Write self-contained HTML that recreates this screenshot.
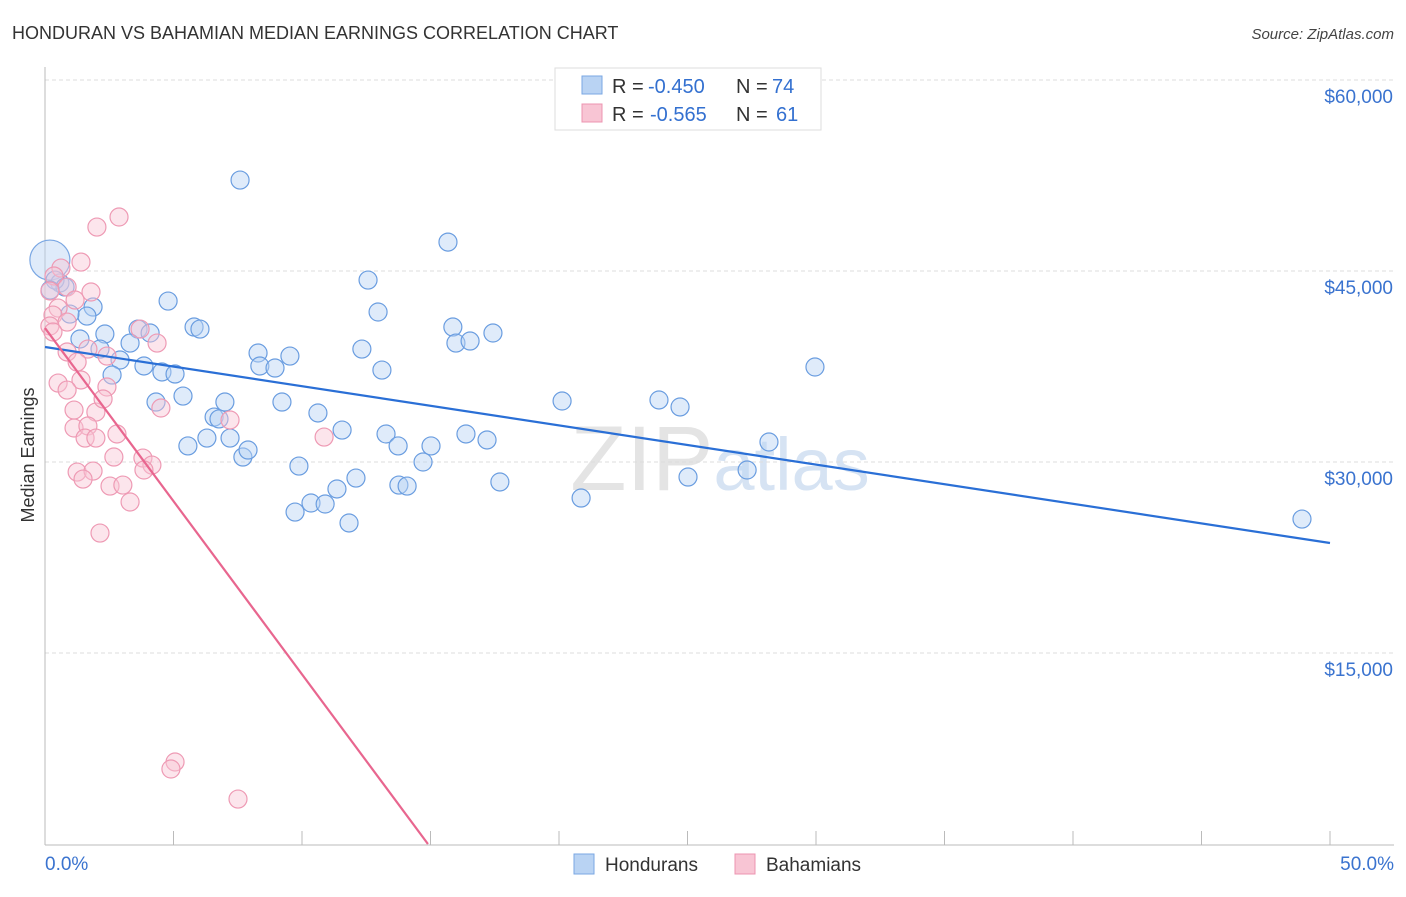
<!DOCTYPE html>
<html><head><meta charset="utf-8"><style>
body{margin:0;background:#fff;font-family:"Liberation Sans",sans-serif}
svg text{font-family:"Liberation Sans",sans-serif}
</style></head><body>
<svg id="chart" width="1406" height="892" viewBox="0 0 1406 892" xmlns="http://www.w3.org/2000/svg">
<text x="12" y="39" font-size="18" fill="#333">HONDURAN VS BAHAMIAN MEDIAN EARNINGS CORRELATION CHART</text>
<text x="1394" y="39" font-size="15" fill="#444" font-style="italic" text-anchor="end">Source: ZipAtlas.com</text>
<text x="720" y="490" font-size="92" fill="#e4e4e4" text-anchor="middle" font-family="Liberation Serif"><tspan>ZIP</tspan><tspan fill="#d6e3f3" font-family="Liberation Sans" font-size="74">atlas</tspan></text>
<g id="grid"></g>
<g id="axes"></g>
<g id="pts"></g>
<g id="lines"></g>
<text transform="translate(34,455) rotate(-90)" font-size="18" fill="#333" text-anchor="middle">Median Earnings</text>
<g>
<rect x="555" y="68" width="266" height="62" fill="#fff" stroke="#ddd"/>
<rect x="582" y="76" width="20" height="18" fill="#b9d3f3" stroke="#7aa7e3"/>
<rect x="582" y="104" width="20" height="18" fill="#f8c5d4" stroke="#ec94b0"/>
<text x="612" y="93" font-size="20" fill="#333">R =</text>
<text x="648" y="93" font-size="20" fill="#3370d0">-0.450</text>
<text x="736" y="93" font-size="20" fill="#333">N =</text>
<text x="772" y="93" font-size="20" fill="#3370d0">74</text>
<text x="612" y="121" font-size="20" fill="#333">R =</text>
<text x="650" y="121" font-size="20" fill="#3370d0">-0.565</text>
<text x="736" y="121" font-size="20" fill="#333">N =</text>
<text x="776" y="121" font-size="20" fill="#3370d0">61</text>
</g>
<g>
<rect x="574" y="854" width="20" height="20" fill="#b9d3f3" stroke="#7aa7e3"/>
<text x="605" y="871" font-size="19" fill="#333">Hondurans</text>
<rect x="735" y="854" width="20" height="20" fill="#f8c5d4" stroke="#ec94b0"/>
<text x="766" y="871" font-size="19" fill="#333">Bahamians</text>
</g>
</svg>
<script>
const xTicks=[0,5,10,15,20,25,30,35,40,45,50];
const yTicks=[15000,30000,45000,60000];
const yTickLabels=["$15,000","$30,000","$45,000","$60,000"];
const hondX=[7.59,15.68,12.57,4.79,1.87,12.96,1.63,0.97,5.80,6.03,2.33,3.62,4.09,15.87,17.43,1.36,3.31,15.99,16.54,12.33,2.14,8.29,9.53,2.92,3.85,8.36,8.95,13.11,4.55,5.06,2.61,29.96,5.37,4.32,7.00,20.12,23.89,24.71,9.22,10.62,6.58,6.77,11.56,13.27,16.38,17.20,6.30,7.20,5.56,13.74,15.02,28.17,7.70,7.90,9.88,14.71,27.32,25.02,12.10,17.70,13.77,14.09,11.36,20.86,10.35,10.90,9.73,11.83,48.91,0.58,0.39,0.78,0.20];
const hondY=[52140,47270,44290,42640,42170,41780,41460,41620,40600,40440,40050,40440,40130,40600,40130,39660,39340,39340,39500,38870,38870,38560,38320,38010,37540,37540,37380,37220,37070,36910,36830,37460,35180,34710,34710,34790,34870,34320,34710,33850,33530,33380,32510,32200,32200,31730,31880,31880,31260,31260,31260,31570,30390,30940,29680,30000,29370,28820,28740,28430,28190,28110,27880,27170,26780,26700,26070,25210,25520,44060,44290,43740,43500];
const bahX=[2.88,2.02,1.40,0.62,0.35,1.79,0.86,0.19,1.17,0.51,0.31,0.86,0.19,0.31,3.70,4.36,1.67,0.86,2.41,1.25,1.40,0.51,0.86,2.41,1.98,1.13,2.26,4.51,7.20,1.13,1.67,1.56,1.98,2.80,10.86,2.68,3.81,4.16,1.25,1.87,3.85,1.48,2.53,3.03,3.31,2.14,5.06,4.90,7.51];
const bahY=[49240,48450,45700,45230,44610,43350,43740,43430,42720,42090,41540,40990,40680,40210,40440,39340,38870,38640,38320,37850,36440,36200,35650,35890,33920,34080,34950,34240,33300,32670,32830,31880,31880,32200,31960,30390,30310,29760,29210,29290,29370,28660,28110,28190,26860,24420,6440,5890,3530];
const bigX=[0.19];const bigY=[45860];
const hondTrendX=[0,50];const hondTrendY=[39030,23640];
const bahTrendX=[0,14.9];const bahTrendY=[40520,0];
const NS="http://www.w3.org/2000/svg";
const sx=v=>45+v/50*1285;
const sy=v=>844-v/15000*191;
function mk(t,a,p){const e=document.createElementNS(NS,t);for(const k in a)e.setAttribute(k,a[k]);p.appendChild(e);return e;}
const grid=document.getElementById('grid'),axes=document.getElementById('axes'),pts=document.getElementById('pts'),lines=document.getElementById('lines');
yTicks.forEach((v,i)=>{
 const l=mk('line',{x1:45,x2:1394,y1:sy(v),y2:sy(v),stroke:'#ddd','stroke-dasharray':'4,3'},grid);
 
 
 const t=mk('text',{x:1393,y:sy(v)+23,'font-size':19,fill:'#3a73cf','text-anchor':'end'},axes);
 t.textContent=yTickLabels[i];
 
 
});
let a=mk('line',{x1:45,x2:45,y1:67,y2:845,stroke:'#bbb'},axes);


a=mk('line',{x1:45,x2:1394,y1:845,y2:845,stroke:'#bbb'},axes);


xTicks.forEach(v=>{
 const t=mk('line',{x1:sx(v),x2:sx(v),y1:831,y2:845,stroke:'#bbb'},axes);
 
 
});
let lt=mk('text',{x:45,y:870,'font-size':19,fill:'#3a73cf'},axes);lt.textContent=xTicks[0].toFixed(1)+'%';


lt=mk('text',{x:1394,y:870,'font-size':19,fill:'#3a73cf','text-anchor':'end'},axes);lt.textContent=xTicks[10].toFixed(1)+'%';


function dots(X,Y,r,fill,stroke,name){X.forEach((x,i)=>{
 const c=mk('circle',{cx:sx(x),cy:sy(Y[i]),r:r,fill:fill,'fill-opacity':0.45,stroke:stroke,'stroke-width':1.2},pts);
 
 
});}
dots(bigX,bigY,20,'#b9d3f3','#7aa7e3','honduran-point-large');
dots(hondX,hondY,9,'#b9d3f3','#6a9de0','honduran-point');
dots(bahX,bahY,9,'#f8c5d4','#ee9ab4','bahamian-point');
let tl=mk('line',{x1:sx(hondTrendX[0]),y1:sy(hondTrendY[0]),x2:sx(hondTrendX[1]),y2:sy(hondTrendY[1]),stroke:'#2a6fd6','stroke-width':2.2},lines);


tl=mk('line',{x1:sx(bahTrendX[0]),y1:sy(bahTrendY[0]),x2:sx(bahTrendX[1]),y2:sy(bahTrendY[1]),stroke:'#e8668f','stroke-width':2.2},lines);


</script>
</body></html>
